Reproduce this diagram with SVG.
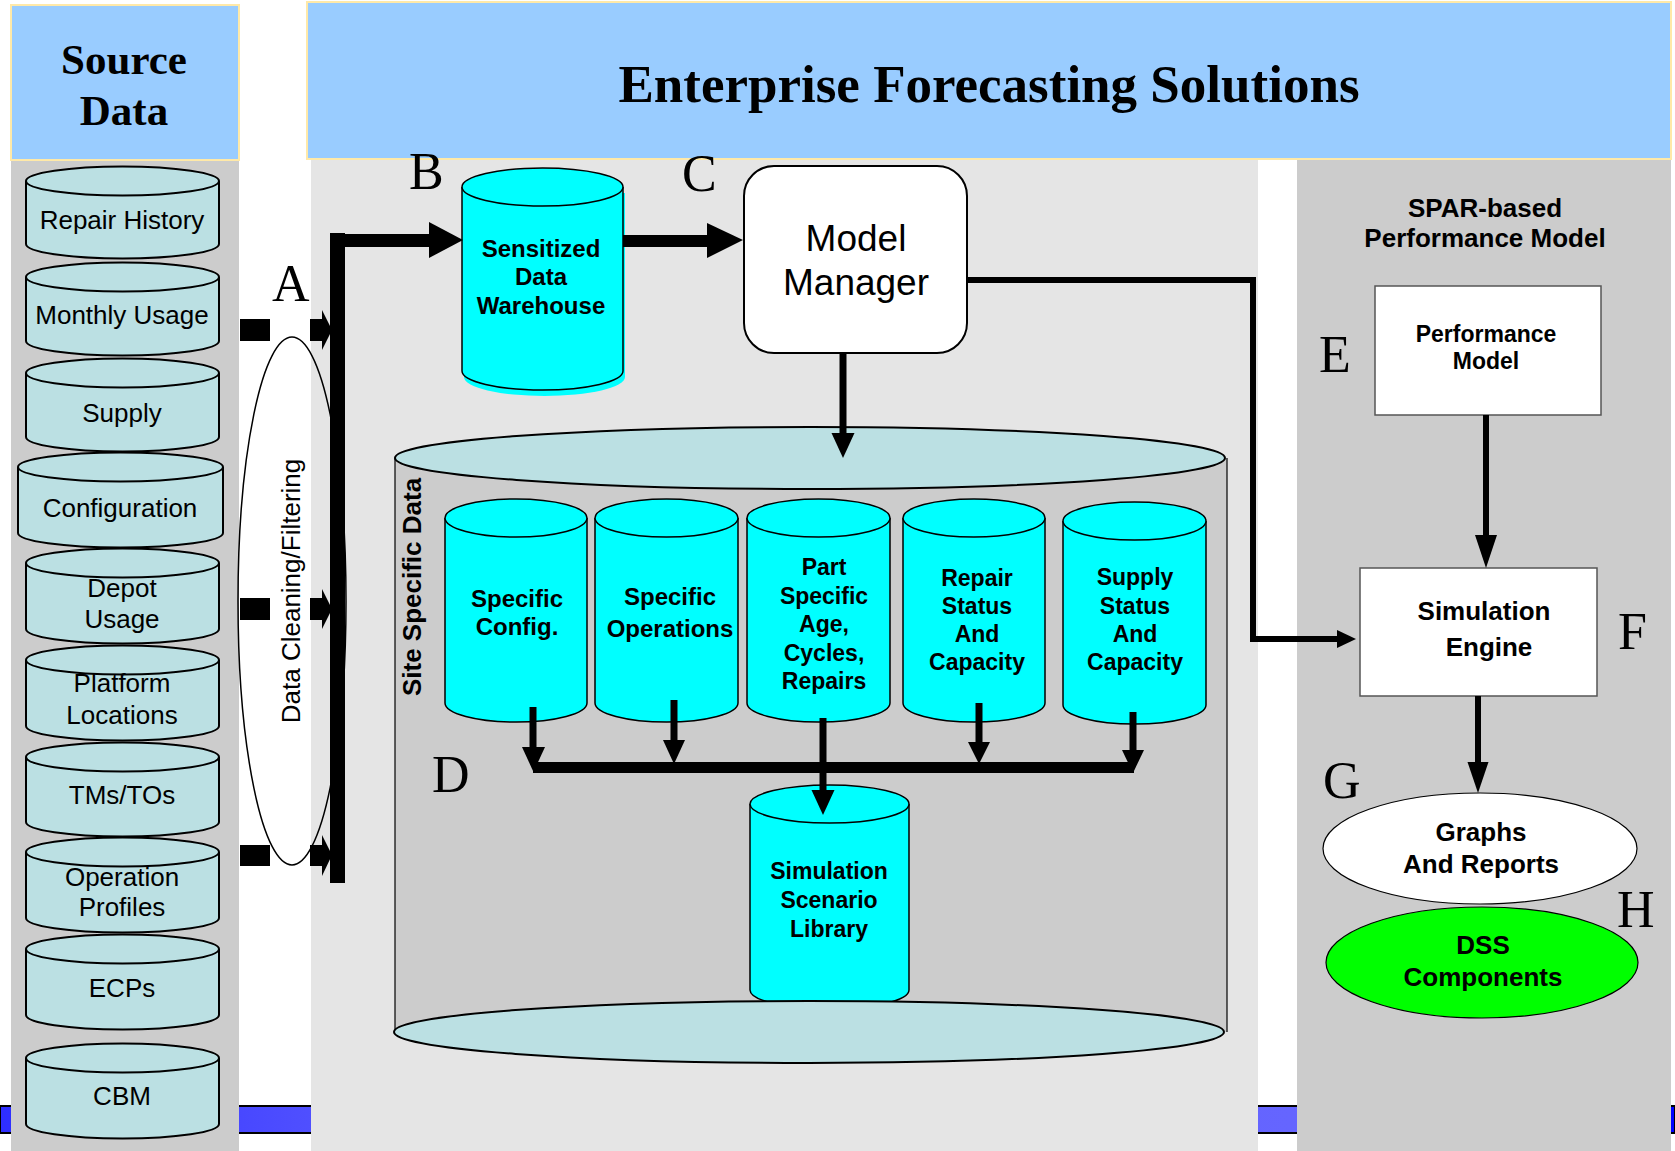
<svg xmlns="http://www.w3.org/2000/svg" width="1675" height="1151" viewBox="0 0 1675 1151">
  <defs>
    <linearGradient id="stripe" x1="0" y1="0" x2="1" y2="0">
      <stop offset="0" stop-color="#2E2EFF"/>
      <stop offset="0.2" stop-color="#5252FF"/>
      <stop offset="0.8" stop-color="#6666FF"/>
      <stop offset="1" stop-color="#0000FF"/>
    </linearGradient>
  </defs>
  <style>
    .hdr { fill: #99CCFF; stroke: #FFE9A8; stroke-width: 2; }
    .src { fill: #BBE0E3; stroke: #000; stroke-width: 2; }
    .cyan { fill: #00FFFF; stroke: #000; stroke-width: 1.5; }
    .txt { font-family: "Liberation Sans", Arial, sans-serif; text-anchor: middle; fill: #000; }
    .s26 { font-size: 26px; }
    .s24 { font-size: 24px; }
    .s23 { font-size: 23px; }
    .b { font-weight: bold; }
    .serif { font-family: "Liberation Serif", "Times New Roman", serif; fill: #000; }
    .ltr { font-size: 52px; }
    .line { stroke: #000; fill: none; }
    .fillk { fill: #000; }
  </style>

  <!-- background -->
  <rect x="0" y="0" width="1675" height="1151" fill="#FFFFFF"/>

  <!-- blue footer stripe (mostly covered by the panels) -->
  <rect x="0" y="1106" width="1675" height="27" fill="url(#stripe)" stroke="#000" stroke-width="2"/>

  <!-- column panels -->
  <rect x="11" y="160" width="228" height="991" fill="#CCCCCC"/>
  <rect x="311" y="159" width="947" height="992" fill="#E5E5E5"/>
  <rect x="1297" y="159" width="374" height="992" fill="#CCCCCC"/>

  <!-- headers -->
  <g id="header-source">
    <rect class="hdr" x="11" y="5" width="228" height="155"/>
    <text class="serif b" x="124" y="74" font-size="43" text-anchor="middle">Source</text>
    <text class="serif b" x="124" y="125" font-size="43" text-anchor="middle">Data</text>
  </g>
  <g id="header-main">
    <rect class="hdr" x="307" y="2" width="1364" height="157"/>
    <text class="serif b" x="989" y="102" font-size="53" text-anchor="middle">Enterprise Forecasting Solutions</text>
  </g>

  <!-- source data stores -->
  <g id="src-repair-history">
    <path class="src" d="M26,181 V244 A96.5,14.5 0 0 0 219,244 V181"/>
    <ellipse class="src" cx="122.5" cy="181" rx="96.5" ry="14.5"/>
    <text class="txt s26" x="122" y="229">Repair History</text>
  </g>
  <g id="src-monthly-usage">
    <path class="src" d="M26,277 V341 A96.5,14.5 0 0 0 219,341 V277"/>
    <ellipse class="src" cx="122.5" cy="277" rx="96.5" ry="14.5"/>
    <text class="txt s26" x="122" y="324">Monthly Usage</text>
  </g>
  <g id="src-supply">
    <path class="src" d="M26,373 V437 A96.5,14.5 0 0 0 219,437 V373"/>
    <ellipse class="src" cx="122.5" cy="373" rx="96.5" ry="14.5"/>
    <text class="txt s26" x="122" y="422">Supply</text>
  </g>
  <g id="src-configuration">
    <path class="src" d="M18,467 V533 A102.5,14.5 0 0 0 223,533 V467"/>
    <ellipse class="src" cx="120.5" cy="467" rx="102.5" ry="14.5"/>
    <text class="txt s26" x="120" y="517">Configuration</text>
  </g>
  <g id="src-depot-usage">
    <path class="src" d="M26,563 V629 A96.5,14.5 0 0 0 219,629 V563"/>
    <ellipse class="src" cx="122.5" cy="563" rx="96.5" ry="14.5"/>
    <text class="txt s26" x="122" y="597">Depot</text>
    <text class="txt s26" x="122" y="628">Usage</text>
  </g>
  <g id="src-platform-locations">
    <path class="src" d="M26,660 V726 A96.5,14.5 0 0 0 219,726 V660"/>
    <ellipse class="src" cx="122.5" cy="660" rx="96.5" ry="14.5"/>
    <text class="txt s26" x="122" y="692">Platform</text>
    <text class="txt s26" x="122" y="724">Locations</text>
  </g>
  <g id="src-tms-tos">
    <path class="src" d="M26,757 V822 A96.5,14.5 0 0 0 219,822 V757"/>
    <ellipse class="src" cx="122.5" cy="757" rx="96.5" ry="14.5"/>
    <text class="txt s26" x="122" y="804">TMs/TOs</text>
  </g>
  <g id="src-operation-profiles">
    <path class="src" d="M26,852 V918 A96.5,14.5 0 0 0 219,918 V852"/>
    <ellipse class="src" cx="122.5" cy="852" rx="96.5" ry="14.5"/>
    <text class="txt s26" x="122" y="886">Operation</text>
    <text class="txt s26" x="122" y="916">Profiles</text>
  </g>
  <g id="src-ecps">
    <path class="src" d="M26,949 V1015 A96.5,14.5 0 0 0 219,1015 V949"/>
    <ellipse class="src" cx="122.5" cy="949" rx="96.5" ry="14.5"/>
    <text class="txt s26" x="122" y="997">ECPs</text>
  </g>
  <g id="src-cbm">
    <path class="src" d="M26,1058 V1124 A96.5,14.5 0 0 0 219,1124 V1058"/>
    <ellipse class="src" cx="122.5" cy="1058" rx="96.5" ry="14.5"/>
    <text class="txt s26" x="122" y="1105">CBM</text>
  </g>

  <!-- data cleaning stage -->
  <g id="data-cleaning">
    <ellipse cx="292" cy="601" rx="54" ry="264" fill="none" stroke="#000" stroke-width="1.5"/>
    <text class="txt s26" transform="translate(300,591) rotate(-90)" x="0" y="0">Data Cleaning/Filtering</text>
  </g>

  <!-- site specific data container -->
  <g id="site-specific-data">
    <rect x="395" y="458" width="832" height="574" fill="#CCCCCC"/>
    <line class="line" x1="395" y1="458" x2="395" y2="1032" stroke-width="1.2"/>
    <line class="line" x1="1227" y1="458" x2="1227" y2="1032" stroke-width="1.2"/>
    <ellipse class="src" cx="810" cy="458" rx="415" ry="31"/>
    <text class="txt s26 b" transform="translate(421,587) rotate(-90)" x="0" y="0">Site Specific Data</text>
  </g>

  <g id="specific-config">
    <path class="cyan" d="M445,518 V703 A71,19 0 0 0 587,703 V518"/>
    <ellipse class="cyan" cx="516" cy="518" rx="71" ry="19"/>
    <text class="txt s24 b" x="517" y="607">Specific</text>
    <text class="txt s24 b" x="517" y="635">Config.</text>
  </g>
  <g id="specific-operations">
    <path class="cyan" d="M595,518 V703 A71.5,19 0 0 0 738,703 V518"/>
    <ellipse class="cyan" cx="666.5" cy="518" rx="71.5" ry="19"/>
    <text class="txt s24 b" x="670" y="605">Specific</text>
    <text class="txt s24 b" x="670" y="637">Operations</text>
  </g>
  <g id="part-specific">
    <path class="cyan" d="M747,518 V703 A71.5,19 0 0 0 890,703 V518"/>
    <ellipse class="cyan" cx="818.5" cy="518" rx="71.5" ry="19"/>
    <text class="txt s23 b" x="824" y="575">Part</text>
    <text class="txt s23 b" x="824" y="604">Specific</text>
    <text class="txt s23 b" x="824" y="632">Age,</text>
    <text class="txt s23 b" x="824" y="661">Cycles,</text>
    <text class="txt s23 b" x="824" y="689">Repairs</text>
  </g>
  <g id="repair-status">
    <path class="cyan" d="M903,518 V703 A71,19 0 0 0 1045,703 V518"/>
    <ellipse class="cyan" cx="974" cy="518" rx="71" ry="19"/>
    <text class="txt s23 b" x="977" y="586">Repair</text>
    <text class="txt s23 b" x="977" y="614">Status</text>
    <text class="txt s23 b" x="977" y="642">And</text>
    <text class="txt s23 b" x="977" y="670">Capacity</text>
  </g>
  <g id="supply-status">
    <path class="cyan" d="M1063,521 V705 A71.5,19 0 0 0 1206,705 V521"/>
    <ellipse class="cyan" cx="1134.5" cy="521" rx="71.5" ry="19"/>
    <text class="txt s23 b" x="1135" y="585">Supply</text>
    <text class="txt s23 b" x="1135" y="614">Status</text>
    <text class="txt s23 b" x="1135" y="642">And</text>
    <text class="txt s23 b" x="1135" y="670">Capacity</text>
  </g>
  <g id="simulation-scenario-library">
    <path class="cyan" d="M750,804 V990 A79.5,19 0 0 0 909,990 V804"/>
    <ellipse class="cyan" cx="829.5" cy="804" rx="79.5" ry="19"/>
    <text class="txt s23 b" x="829" y="879">Simulation</text>
    <text class="txt s23 b" x="829" y="908">Scenario</text>
    <text class="txt s23 b" x="829" y="937">Library</text>
  </g>
  <!-- front rim of the container -->
  <ellipse id="site-data-base" class="src" cx="809" cy="1032" rx="415" ry="31"/>

  <!-- warehouse and model manager -->
  <g id="sensitized-data-warehouse">
    <path d="M464,193 V377 A80.5,19 0 0 0 625,377 V193 Z" fill="#00FFFF"/>
    <path class="cyan" d="M462,187 V371 A80.5,19 0 0 0 623,371 V187"/>
    <ellipse class="cyan" cx="542.5" cy="187" rx="80.5" ry="19"/>
    <text class="txt s24 b" x="541" y="257">Sensitized</text>
    <text class="txt s24 b" x="541" y="285">Data</text>
    <text class="txt s24 b" x="541" y="314">Warehouse</text>
  </g>
  <g id="model-manager">
    <rect x="744" y="166" width="223" height="187" rx="30" ry="30" fill="#FFFFFF" stroke="#000" stroke-width="2"/>
    <text class="txt" font-size="37" x="856" y="251">Model</text>
    <text class="txt" font-size="37" x="856" y="295">Manager</text>
  </g>

  <!-- SPAR-based performance model -->
  <g id="spar-title">
    <text class="txt s26 b" x="1485" y="217">SPAR-based</text>
    <text class="txt s26 b" x="1485" y="247">Performance Model</text>
  </g>
  <g id="performance-model">
    <rect x="1375" y="286" width="226" height="129" fill="#FFFFFF" stroke="#555" stroke-width="1.5"/>
    <text class="txt b" font-size="23" x="1486" y="342">Performance</text>
    <text class="txt b" font-size="23" x="1486" y="369">Model</text>
  </g>
  <g id="simulation-engine">
    <rect x="1360" y="568" width="237" height="128" fill="#FFFFFF" stroke="#555" stroke-width="1.5"/>
    <text class="txt s26 b" x="1484" y="620">Simulation</text>
    <text class="txt s26 b" x="1489" y="656">Engine</text>
  </g>
  <g id="graphs-and-reports">
    <ellipse cx="1480" cy="848.5" rx="157" ry="55.5" fill="#FFFFFF" stroke="#000" stroke-width="1.2"/>
    <text class="txt s26 b" x="1481" y="841">Graphs</text>
    <text class="txt s26 b" x="1481" y="873">And Reports</text>
  </g>
  <g id="dss-components">
    <ellipse cx="1482" cy="962.5" rx="156" ry="55.5" fill="#00FF00" stroke="#000" stroke-width="1.2"/>
    <text class="txt s26 b" x="1483" y="954">DSS</text>
    <text class="txt s26 b" x="1483" y="986">Components</text>
  </g>

  <!-- connectors -->
  <g id="connectors">
    <!-- source feeds into the collector bar -->
    <rect class="fillk" x="240" y="319" width="30" height="22"/>
    <polygon class="fillk" points="310,319 322,319 322,310 332,330 322,350 322,341 310,341"/>
    <rect class="fillk" x="240" y="598" width="30" height="22"/>
    <polygon class="fillk" points="310,598 322,598 322,589 332,609 322,629 322,620 310,620"/>
    <rect class="fillk" x="240" y="845" width="30" height="21"/>
    <polygon class="fillk" points="310,845 322,845 322,835 332,855 322,876 322,866 310,866"/>

    <!-- collector bar to warehouse -->
    <rect class="fillk" x="330" y="233" width="15" height="650"/>
    <rect class="fillk" x="330" y="234" width="100" height="13"/>
    <polygon class="fillk" points="429,222 463,240 429,258"/>

    <!-- warehouse to model manager -->
    <rect class="fillk" x="623" y="235" width="85" height="12"/>
    <polygon class="fillk" points="707,223 743,240 707,258"/>

    <!-- model manager down to site data -->
    <line class="line" x1="843" y1="353" x2="843" y2="435" stroke-width="7"/>
    <polygon class="fillk" points="831.5,433 854.5,433 843,458"/>

    <!-- model manager to simulation engine -->
    <path class="line" d="M967,280 H1253 V639 H1338" stroke-width="6"/>
    <polygon class="fillk" points="1337,630 1356,639 1337,648"/>

    <!-- site data stores to the scenario bus -->
    <rect class="fillk" x="533" y="762" width="601" height="11"/>
    <line class="line" x1="533" y1="707" x2="533" y2="749" stroke-width="7"/>
    <polygon class="fillk" points="522,747 545,747 533.5,772"/>
    <line class="line" x1="674" y1="700" x2="674" y2="742" stroke-width="7"/>
    <polygon class="fillk" points="663,740 685,740 674,764"/>
    <line class="line" x1="979" y1="703" x2="979" y2="744" stroke-width="7"/>
    <polygon class="fillk" points="968,742 990,742 979,764"/>
    <line class="line" x1="1133" y1="712" x2="1133" y2="752" stroke-width="7"/>
    <polygon class="fillk" points="1122,750 1144,750 1133,773"/>
    <line class="line" x1="823" y1="718" x2="823" y2="792" stroke-width="7"/>
    <polygon class="fillk" points="811.5,790 834.5,790 823,815"/>

    <!-- performance model to simulation engine -->
    <line class="line" x1="1486" y1="415" x2="1486" y2="537" stroke-width="6"/>
    <polygon class="fillk" points="1475,535 1497,535 1486,568"/>

    <!-- simulation engine to graphs and reports -->
    <line class="line" x1="1478" y1="696" x2="1478" y2="764" stroke-width="6"/>
    <polygon class="fillk" points="1467.5,762 1488.5,762 1478,793"/>
  </g>

  <!-- stage letters -->
  <g id="stage-letters">
    <text class="serif ltr" x="272" y="301">A</text>
    <text class="serif ltr" x="409" y="189">B</text>
    <text class="serif ltr" x="682" y="191">C</text>
    <text class="serif ltr" x="432" y="792">D</text>
    <text class="serif ltr" x="1319" y="372">E</text>
    <text class="serif ltr" x="1618" y="649">F</text>
    <text class="serif ltr" x="1323" y="798">G</text>
    <text class="serif ltr" x="1617" y="927">H</text>
  </g>
</svg>
